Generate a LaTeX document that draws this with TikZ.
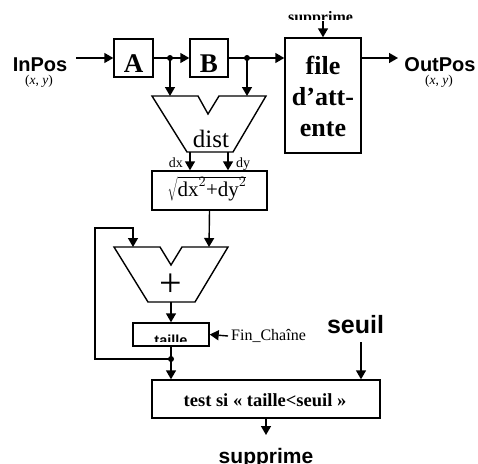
\documentclass[tikz,border=0pt]{standalone}
\usepackage{fontspec}
\setmainfont{Liberation Serif}
\setsansfont{Liberation Sans}
\usetikzlibrary{arrows.meta}
\newcommand\myfs[1]{\fontsize{#1}{#1}\selectfont}
\begin{document}
\begin{tikzpicture}[x=1pt,y=-1pt,
  box/.style={draw, line width=1.4pt, inner sep=0pt},
  ln/.style={line width=1.4pt},
  arr/.style={line width=1.4pt, -{Triangle[length=9pt,width=10pt]}},
  dot/.style={circle, fill, inner sep=0pt, minimum size=6pt},
  txt/.style={inner sep=0pt, anchor=base},
  bsans/.style={font=\sffamily\bfseries\myfs{#1}},
  bser/.style={font=\bfseries\myfs{#1}},
  ser/.style={font=\myfs{#1}}]
\useasboundingbox (0,0) rectangle (478,463);

% boxes
\node[box, minimum width=39pt, minimum height=38pt] (A) at (133.5,58) {};
\node[box, minimum width=38pt, minimum height=38pt] (B) at (209,58) {};
\node[box, minimum width=76pt, minimum height=115pt] (file) at (323,95.5) {};
\node[box, minimum width=115pt, minimum height=39pt] (sqrtbox) at (209.5,190.5) {};
\node[box, minimum width=76pt, minimum height=23pt] (taille) at (171,334.5) {};
\node[box, minimum width=228pt, minimum height=38pt] (test) at (266,399) {};

% trapezoids
\draw[ln, line join=miter] (152,96) -- (198,96) -- (208,114) -- (219,96) -- (266,96) -- (233,152) -- (187,152) -- cycle;
\draw[ln, line join=miter] (114,247) -- (160,247) -- (171,265) -- (182,247) -- (228,247) -- (195,302) -- (148,302) -- cycle;
\coordinate (distL) at (170,96);
\coordinate (distR) at (247,96);
\coordinate (distoutL) at (190,152);
\coordinate (distoutR) at (228,152);
\coordinate (plusL) at (133,247);
\coordinate (plusR) at (209,247);
\coordinate (plusout) at (171,302);

% texts
\node[txt, bser=27] (At) at (133.5,72.5) {A};
\node[txt, bser=27] (Bt) at (209,72.5) {B};
\node[inner sep=0pt, align=center, font=\bfseries\fontsize{26}{31}\selectfont] (filet) at (323,96) {file\\d’att-\\ente};
\node[txt, bsans=20] (inpos) at (40,71) {InPos};
\node[txt, ser=13.5] (inxy) at (39,84.5) {(\textit{x}, \textit{y})};
\node[txt, bsans=20] (outpos) at (440,71) {OutPos};
\node[txt, ser=13.5] (outxy) at (439,84.5) {(\textit{x}, \textit{y})};
\node[txt, ser=25] (distt) at (211,147) {dist};
\node[txt, anchor=base east, ser=14] (dxt) at (183,167) {dx};
\node[txt, anchor=base west, ser=14] (dyt) at (236,167) {dy};
\node[txt, font=\fontsize{21}{25}\selectfont] (sqrtt) at (207,196) {$\sqrt{\mbox{dx}^2\mbox{+dy}^2}$};
\node[inner sep=0pt, ser=40] (plust) at (171,285) {+};
\node[txt, anchor=base west, ser=16] (fin) at (231,340) {Fin\_Chaîne};
\node[txt, bsans=25] (seuil) at (355.5,333) {seuil};
\node[txt, bser=18.5] (testt) at (265,406) {test si « taille<seuil »};
\node[txt, bsans=21] (sup2) at (266,463.5) {supprime};
\begin{scope}
\clip (133,320) rectangle (209,341);
\node[txt, bsans=14.5] (taillet) at (171,345) {taille};
\end{scope}
\begin{scope}
\clip (280,0) rectangle (370,19.5);
\node[txt, bser=16] (sup1) at (320.5,22) {supprime};
\end{scope}

% connectors
\coordinate (inS) at (76,58);
\coordinate (outE) at (398,58);
\coordinate (supS) at (323,21);
\coordinate (finS) at (228,336);
\coordinate (seuilS) at (361,342);
\coordinate (loopA) at (95,359);
\coordinate (loopB) at (95,228);
\coordinate (loopC) at (133,228);
\node[dot] (d1) at (170,58) {};
\node[dot] (d2) at (247,58) {};
\node[dot] (d3) at (171,359) {};

\draw[arr] (inS) -- (A.west);
\draw[arr] (A.east) -- (B.west);
\draw[arr] (B.east) -- (B.east -| file.west);
\draw[arr] (B.east -| file.east) -- (outE);
\draw[arr] (supS) -- (file.north);
\draw[arr] (d1.center) -- (distL);
\draw[arr] (d2.center) -- (distR);
\draw[arr] (distoutL) -- (distoutL |- sqrtbox.north);
\draw[arr] (distoutR) -- (distoutR |- sqrtbox.north);
\draw[arr] (sqrtbox.south) -- (plusR);
\draw[arr] (plusout) -- (taille.north);
\draw[arr] (finS) -- (taille.east);
\draw[ln] (taille.south) -- (d3.center);
\draw[arr] (d3.center) -- (d3.center |- test.north);
\draw[arr] (d3.center) -- (loopA) -- (loopB) -- (loopC) -- (plusL);
\draw[arr] (seuilS) -- (seuilS |- test.north);
\draw[arr] (test.south) -- (266,435);
\end{tikzpicture}
\end{document}
